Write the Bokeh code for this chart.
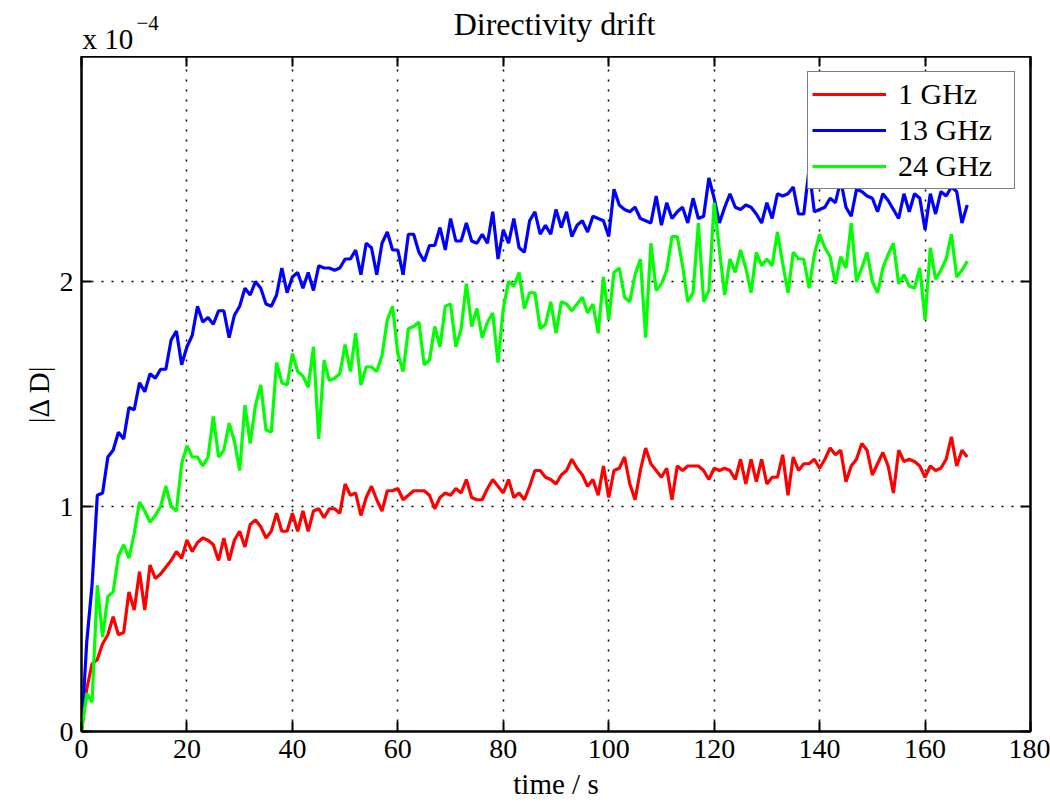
from bokeh.plotting import figure
from bokeh.layouts import column
from bokeh.models import (Range1d, FixedTicker, LinearAxis, Legend,
                          LegendItem, ColumnDataSource)
from bokeh.core.properties import value
from bokeh.embed import file_html
from bokeh.resources import INLINE

# |dD| in units of 1e-4, sampled once per second
drift_1ghz = [
    0.00, 0.19, 0.30, 0.32, 0.39, 0.43, 0.51, 0.43, 0.44, 0.62,
    0.54, 0.71, 0.54, 0.74, 0.68, 0.70, 0.73, 0.76, 0.80, 0.77,
    0.85, 0.80, 0.84, 0.86, 0.85, 0.83, 0.76, 0.86, 0.76, 0.85,
    0.89, 0.82, 0.92, 0.94, 0.91, 0.86, 0.89, 0.97, 0.89, 0.89,
    0.97, 0.89, 0.98, 0.89, 0.98, 0.99, 0.95, 0.99, 0.99, 0.97,
    1.10, 1.05, 1.06, 0.96, 1.04, 1.09, 1.03, 0.98, 1.07, 1.07,
    1.08, 1.03, 1.05, 1.07, 1.07, 1.07, 1.05, 0.99, 1.04, 1.06,
    1.05, 1.08, 1.06, 1.12, 1.04, 1.03, 1.03, 1.08, 1.12, 1.09,
    1.06, 1.12, 1.04, 1.06, 1.03, 1.09, 1.16, 1.16, 1.13, 1.12,
    1.10, 1.14, 1.16, 1.21, 1.17, 1.14, 1.09, 1.12, 1.05, 1.18,
    1.04, 1.16, 1.17, 1.22, 1.10, 1.03, 1.16, 1.26, 1.19, 1.16,
    1.13, 1.17, 1.03, 1.18, 1.16, 1.18, 1.18, 1.18, 1.16, 1.12,
    1.17, 1.16, 1.17, 1.16, 1.12, 1.21, 1.10, 1.21, 1.11, 1.21,
    1.10, 1.13, 1.13, 1.23, 1.05, 1.22, 1.16, 1.19, 1.19, 1.21,
    1.17, 1.21, 1.26, 1.23, 1.25, 1.11, 1.18, 1.21, 1.28, 1.25,
    1.14, 1.19, 1.24, 1.18, 1.06, 1.25, 1.20, 1.21, 1.20, 1.18,
    1.13, 1.18, 1.16, 1.17, 1.21, 1.31, 1.18, 1.25, 1.22,
]

drift_13ghz = [
    0.00, 0.40, 0.65, 1.05, 1.06, 1.22, 1.25, 1.33, 1.30, 1.44,
    1.43, 1.55, 1.51, 1.59, 1.57, 1.61, 1.61, 1.74, 1.78, 1.63,
    1.71, 1.76, 1.89, 1.82, 1.84, 1.81, 1.87, 1.87, 1.75, 1.85,
    1.89, 1.97, 1.94, 2.00, 1.97, 1.90, 1.89, 1.94, 2.06, 1.95,
    2.02, 2.04, 1.97, 2.04, 1.96, 2.07, 2.06, 2.06, 2.05, 2.06,
    2.10, 2.10, 2.14, 2.03, 2.17, 2.15, 2.03, 2.17, 2.22, 2.14,
    2.14, 2.03, 2.21, 2.21, 2.13, 2.09, 2.16, 2.16, 2.24, 2.14,
    2.28, 2.18, 2.18, 2.26, 2.18, 2.17, 2.21, 2.17, 2.31, 2.10,
    2.23, 2.17, 2.28, 2.15, 2.13, 2.27, 2.31, 2.21, 2.25, 2.21,
    2.32, 2.24, 2.31, 2.20, 2.25, 2.27, 2.22, 2.29, 2.28, 2.27,
    2.20, 2.41, 2.34, 2.32, 2.31, 2.33, 2.28, 2.27, 2.26, 2.38,
    2.25, 2.35, 2.28, 2.31, 2.33, 2.26, 2.37, 2.28, 2.29, 2.46,
    2.37, 2.26, 2.33, 2.39, 2.33, 2.32, 2.34, 2.33, 2.30, 2.26,
    2.35, 2.28, 2.39, 2.38, 2.39, 2.42, 2.30, 2.30, 2.50, 2.31,
    2.32, 2.33, 2.37, 2.35, 2.45, 2.33, 2.29, 2.41, 2.40, 2.38,
    2.37, 2.31, 2.39, 2.36, 2.32, 2.28, 2.39, 2.31, 2.39, 2.37,
    2.23, 2.39, 2.30, 2.40, 2.38, 2.42, 2.40, 2.26, 2.34,
]

drift_24ghz = [
    0.00, 0.17, 0.13, 0.65, 0.42, 0.60, 0.62, 0.78, 0.83, 0.77,
    0.88, 1.02, 0.98, 0.93, 0.96, 1.00, 1.09, 1.00, 0.98, 1.19,
    1.27, 1.22, 1.22, 1.18, 1.22, 1.40, 1.22, 1.25, 1.37, 1.29,
    1.16, 1.45, 1.28, 1.45, 1.54, 1.34, 1.33, 1.64, 1.55, 1.54,
    1.68, 1.60, 1.58, 1.53, 1.71, 1.30, 1.65, 1.56, 1.57, 1.59,
    1.72, 1.60, 1.77, 1.54, 1.62, 1.62, 1.60, 1.67, 1.83, 1.89,
    1.68, 1.60, 1.79, 1.80, 1.82, 1.63, 1.65, 1.80, 1.71, 1.89,
    1.90, 1.71, 1.79, 1.99, 1.80, 1.88, 1.75, 1.82, 1.86, 1.64,
    1.88, 2.00, 1.98, 2.04, 1.88, 1.95, 1.95, 1.79, 1.81, 1.91,
    1.77, 1.91, 1.90, 1.87, 1.90, 1.93, 1.86, 1.90, 1.77, 2.02,
    1.83, 2.04, 2.06, 1.93, 1.91, 2.03, 2.10, 1.75, 2.17, 1.96,
    1.99, 2.05, 2.20, 2.20, 2.07, 1.91, 1.95, 2.26, 1.91, 1.96,
    2.35, 2.14, 1.94, 2.10, 2.04, 2.14, 2.06, 1.95, 2.13, 2.07,
    2.10, 2.07, 2.22, 2.08, 1.95, 2.13, 2.10, 2.10, 1.97, 2.12,
    2.21, 2.15, 2.11, 1.99, 2.11, 2.06, 2.26, 2.00, 2.06, 2.13,
    2.00, 1.95, 2.06, 2.12, 2.17, 1.99, 2.03, 1.98, 1.97, 2.06,
    1.83, 2.15, 2.01, 2.05, 2.10, 2.21, 2.02, 2.05, 2.09,
]

series_names = ["1 GHz", "13 GHz", "24 GHz"]
series_colors = ["#ff0000", "#0000ff", "#00ff00"]
x_ticks = [0, 20, 40, 60, 80, 100, 120, 140, 160, 180]
y_ticks = [0, 1, 2]
title_text = "Directivity drift"
scale_text = "x 10"
scale_exponent = "\u22124"

FONT = "Liberation Serif"
HEADER_H = 56
FRAME_LEFT, FRAME_RIGHT = 81, 1030

# ---- header strip: title and the y-scale exponent ----
# its frame is aligned with the axes below, so x runs in page pixels
hdr = figure(width=1050, height=HEADER_H,
             x_range=Range1d(FRAME_LEFT, FRAME_RIGHT),
             y_range=Range1d(HEADER_H, 0),
             output_backend="svg", toolbar_location=None,
             x_axis_type=None, y_axis_type=None,
             min_border=0, min_border_left=0, min_border_right=0,
             min_border_top=0, min_border_bottom=0)
hdr.outline_line_color = None
hdr.background_fill_color = "white"
hdr.border_fill_color = "white"
hdr.grid.visible = False
hdr.text(x=[554], y=[23], text=[title_text], text_font=value(FONT),
         text_font_size="32px", text_align="center",
         text_baseline="alphabetic", text_color="black")
hdr.text(x=[82], y=[38], text=[scale_text], text_font=value(FONT),
         text_font_size="29px", text_align="left",
         text_baseline="alphabetic", text_color="black")
hdr.text(x=[136], y=[22], text=[scale_exponent], text_font=value(FONT),
         text_font_size="21px", text_align="left",
         text_baseline="alphabetic", text_color="black")

# ---- main axes ----
p = figure(width=1050, height=804 - HEADER_H,
           x_range=Range1d(0, 180), y_range=Range1d(0, 3),
           output_backend="svg", toolbar_location=None,
           min_border_left=FRAME_LEFT, min_border_right=1050 - FRAME_RIGHT,
           min_border_top=0, min_border_bottom=73)
p.background_fill_color = "white"
p.border_fill_color = "white"
p.outline_line_color = "black"
p.outline_line_width = 2


def style_axis(ax, show_labels):
    ax.axis_line_color = "black"
    ax.axis_line_width = 2
    ax.major_tick_in = 10
    ax.major_tick_out = 0
    ax.major_tick_line_color = "black"
    ax.major_tick_line_width = 2
    ax.minor_tick_line_color = None
    ax.major_label_text_font = FONT
    ax.major_label_text_color = "black"
    ax.axis_label_text_font = FONT
    ax.axis_label_text_color = "black"
    ax.axis_label_text_font_size = "29px"
    ax.axis_label_text_font_style = "normal"
    if show_labels:
        ax.major_label_text_font_size = "28px"
        ax.major_label_standoff = 8
    else:
        ax.major_label_text_font_size = "0px"
        ax.major_label_text_color = None
        ax.major_label_standoff = 0


p.xaxis.ticker = FixedTicker(ticks=x_ticks)
p.yaxis.ticker = FixedTicker(ticks=y_ticks)
p.xaxis.axis_label = "time / s"
p.yaxis.axis_label = "|\u0394 D|"
p.xaxis.axis_label_standoff = 7
p.yaxis.axis_label_standoff = 2
style_axis(p.xaxis[0], True)
style_axis(p.yaxis[0], True)

# box-style ticks on the top and right edges
top_axis = LinearAxis(ticker=FixedTicker(ticks=x_ticks))
right_axis = LinearAxis(ticker=FixedTicker(ticks=y_ticks))
style_axis(top_axis, False)
style_axis(right_axis, False)
p.add_layout(top_axis, "above")
p.add_layout(right_axis, "right")

p.xgrid.ticker = FixedTicker(ticks=x_ticks[1:-1])
p.ygrid.ticker = FixedTicker(ticks=y_ticks[1:])
for g in (p.xgrid[0], p.ygrid[0]):
    g.grid_line_color = "black"
    g.grid_line_dash = "2 8"
    g.grid_line_width = 1.5
    g.grid_line_alpha = 1.0

renderers = []
for vals, color in zip([drift_1ghz, drift_13ghz, drift_24ghz], series_colors):
    src = ColumnDataSource(dict(t=list(range(len(vals))), d=vals))
    r = p.line("t", "d", source=src, line_color=color, line_width=3.2)
    renderers.append(r)

legend = Legend(items=[LegendItem(label=n, renderers=[r])
                       for n, r in zip(series_names, renderers)],
                location="top_right")
legend.margin = 15
legend.padding = 4
legend.spacing = 0
legend.glyph_width = 74
legend.glyph_height = 36
legend.label_height = 36
legend.label_width = 112
legend.label_standoff = 12
legend.label_text_font = FONT
legend.label_text_color = "black"
legend.label_text_font_size = "30px"
legend.border_line_color = "black"
legend.border_line_width = 1.5
legend.background_fill_color = "white"
legend.background_fill_alpha = 1.0
p.add_layout(legend)

layout = column(hdr, p, spacing=0)
open("out.html", "w").write(file_html(layout, INLINE))
